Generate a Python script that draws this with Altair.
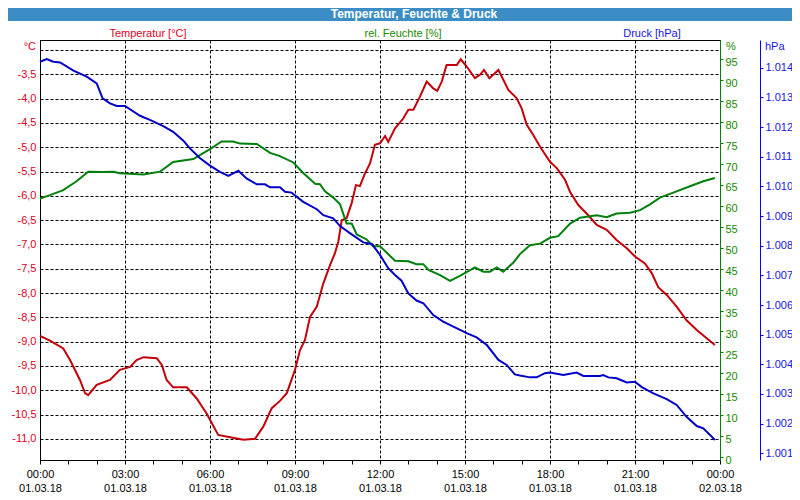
import altair as alt
import pandas as pd

# ---------------- data ----------------
temp_hours = [0.0, 0.35, 0.82, 1.06, 1.41, 1.59, 1.70, 2.00, 2.47, 2.82, 3.18, 3.41, 3.65, 4.12, 4.30,
              4.47, 4.70, 5.18, 5.53, 5.88, 6.29, 6.71, 7.18, 7.59, 7.88, 8.18, 8.47, 8.71, 9.00, 9.18,
              9.35, 9.53, 9.77, 10.00, 10.24, 10.41, 10.53, 10.65, 10.82, 11.00, 11.15, 11.29, 11.47,
              11.65, 11.82, 12.00, 12.18, 12.29, 12.53, 12.82, 13.00, 13.18, 13.41, 13.65, 13.88, 14.02,
              14.18, 14.35, 14.71, 14.85, 15.06, 15.35, 15.53, 15.67, 15.86, 16.18, 16.53, 16.82, 17.00,
              17.18, 17.41, 17.65, 18.00, 18.24, 18.53, 18.71, 19.00, 19.35, 19.65, 20.00, 20.35, 20.71,
              21.00, 21.35, 21.59, 21.82, 22.12, 22.47, 22.82, 23.18, 23.53, 23.82]
temp_values = [-8.88, -8.98, -9.14, -9.38, -9.79, -10.06, -10.10, -9.89, -9.79, -9.58, -9.52, -9.38, -9.32,
               -9.34, -9.48, -9.79, -9.94, -9.94, -10.17, -10.48, -10.92, -10.97, -11.02, -11.00, -10.75,
               -10.37, -10.22, -10.06, -9.58, -9.17, -8.97, -8.49, -8.28, -7.80, -7.42, -7.18, -6.94, -6.50,
               -6.46, -6.15, -5.78, -5.80, -5.54, -5.33, -4.95, -4.92, -4.77, -4.89, -4.61, -4.41, -4.23,
               -4.23, -3.96, -3.65, -3.79, -3.84, -3.65, -3.31, -3.31, -3.19, -3.34, -3.58, -3.51, -3.41,
               -3.58, -3.41, -3.82, -3.99, -4.20, -4.54, -4.75, -4.99, -5.30, -5.43, -5.67, -5.92, -6.19,
               -6.40, -6.60, -6.70, -6.91, -7.08, -7.25, -7.39, -7.59, -7.88, -8.04, -8.28, -8.56, -8.76,
               -8.93, -9.07]

hum_hours = [0.0, 0.35, 0.82, 1.29, 1.70, 2.24, 2.59, 2.82, 3.65, 4.24, 4.70, 5.41, 6.00, 6.41, 6.82, 7.06,
             7.65, 8.12, 8.47, 8.94, 9.29, 9.71, 9.88, 10.06, 10.35, 10.59, 10.82, 11.00, 11.18, 11.53,
             11.76, 12.00, 12.53, 13.00, 13.29, 13.53, 13.71, 14.12, 14.47, 14.82, 15.35, 15.65, 15.88,
             16.12, 16.35, 16.71, 16.94, 17.29, 17.65, 18.00, 18.29, 18.71, 19.06, 19.65, 20.00, 20.35,
             20.82, 21.18, 21.53, 21.88, 22.35, 22.94, 23.41, 23.82]
hum_values = [62.5, 63.3, 64.5, 66.6, 68.9, 68.8, 68.9, 68.5, 68.2, 68.9, 71.2, 71.9, 74.3, 76.1, 76.1, 75.6,
              75.5, 73.4, 72.6, 71.1, 68.6, 66.0, 65.9, 64.2, 62.7, 61.1, 56.5, 56.5, 53.9, 52.7, 51.1,
              51.1, 47.6, 47.5, 46.8, 46.8, 45.4, 44.2, 42.8, 44.0, 46.0, 45.0, 45.0, 46.0, 45.0, 47.2,
              49.2, 51.3, 51.7, 53.1, 53.5, 56.5, 57.9, 58.5, 58.0, 58.9, 59.1, 59.7, 61.1, 62.7, 63.9,
              65.4, 66.6, 67.4]

pres_hours = [0.0, 0.24, 0.47, 0.71, 1.18, 1.65, 2.00, 2.21, 2.47, 2.71, 3.00, 3.53, 3.88, 4.35, 4.70, 5.06,
              5.29, 5.65, 6.00, 6.35, 6.65, 7.00, 7.29, 7.65, 7.94, 8.12, 8.47, 8.65, 8.88, 9.29, 9.77,
              10.00, 10.35, 10.59, 11.00, 11.41, 11.71, 12.00, 12.29, 12.53, 12.76, 13.00, 13.29, 13.53,
              13.88, 14.23, 14.59, 15.06, 15.41, 15.77, 16.18, 16.47, 16.76, 16.94, 17.29, 17.53, 17.82,
              18.00, 18.47, 18.94, 19.18, 19.76, 19.88, 20.06, 20.35, 20.71, 21.00, 21.24, 21.65, 22.12,
              22.47, 22.82, 23.18, 23.41, 23.65, 23.82]
pres_values = [1014.20, 1014.29, 1014.20, 1014.18, 1013.90, 1013.70, 1013.47, 1012.97, 1012.80, 1012.71,
               1012.71, 1012.38, 1012.24, 1012.03, 1011.84, 1011.54, 1011.28, 1010.95, 1010.70, 1010.49,
               1010.35, 1010.53, 1010.27, 1010.07, 1010.07, 1009.97, 1009.97, 1009.82, 1009.79, 1009.48,
               1009.23, 1009.03, 1008.92, 1008.66, 1008.38, 1008.11, 1008.06, 1007.69, 1007.24, 1007.01,
               1006.82, 1006.39, 1006.15, 1006.06, 1005.66, 1005.44, 1005.27, 1005.05, 1004.91, 1004.65,
               1004.15, 1003.98, 1003.66, 1003.62, 1003.56, 1003.56, 1003.70, 1003.72, 1003.64, 1003.72,
               1003.61, 1003.61, 1003.64, 1003.56, 1003.53, 1003.39, 1003.41, 1003.23, 1003.02, 1002.83,
               1002.63, 1002.23, 1001.92, 1001.84, 1001.62, 1001.45]

hour_ticks = list(range(0, 25))
temp_ticks = [-3.0, -3.5, -4.0, -4.5, -5.0, -5.5, -6.0, -6.5, -7.0, -7.5, -8.0, -8.5, -9.0, -9.5,
              -10.0, -10.5, -11.0]
hum_ticks = [0, 5, 10, 15, 20, 25, 30, 35, 40, 45, 50, 55, 60, 65, 70, 75, 80, 85, 90, 95]
pres_ticks = [1001, 1002, 1003, 1004, 1005, 1006, 1007, 1008, 1009, 1010, 1011, 1012, 1013, 1014]

chart_title = "Temperatur, Feuchte & Druck"
series_titles = ["Temperatur [°C]", "rel. Feuchte [%]", "Druck [hPa]"]
unit_labels = ["°C", "%", "hPa"]

# ---------------- styling ----------------
FONT = "Liberation Sans"
RED_LINE = "#c4000a"
RED_TEXT = "#e0001e"
GREEN_LINE = "#00800a"
GREEN_TEXT = "#168a00"
BLUE_LINE = "#0000c8"
BLUE_TEXT = "#1414e6"
BAR = "#3c8dc6"

x_enc = alt.X(
    "h:Q",
    scale=alt.Scale(domain=[0, 24], nice=False, zero=False),
    axis=alt.Axis(
        values=hour_ticks,
        labelExpr="datum.value % 3 == 0 ? [(datum.value % 24 < 10 ? '0' : '') + (datum.value % 24) + ':00', "
                  "datum.value == 24 ? '02.03.18' : '01.03.18'] : ''",
        title=None,
        tickSize=4, tickColor="black", domainColor="black",
        labelColor="black", labelFont=FONT, labelFontSize=11,
        labelLineHeight=14, labelPadding=4, labelFlush=False, labelOverlap=False,
        grid=True, gridColor="black", gridDash=[3, 2], gridWidth=1,
        gridOpacity={"condition": {"test": "datum.value % 3 === 0", "value": 1}, "value": 0},
    ),
)

temp_df = pd.DataFrame({"h": temp_hours, "v": temp_values})
hum_df = pd.DataFrame({"h": hum_hours, "v": hum_values})
pres_df = pd.DataFrame({"h": pres_hours, "v": pres_values})

temp_line = alt.Chart(temp_df).mark_line(color=RED_LINE, strokeWidth=2).encode(
    x=x_enc,
    y=alt.Y("v:Q",
            scale=alt.Scale(domain=[-11.436, -2.794], nice=False, zero=False),
            axis=alt.Axis(orient="left", values=temp_ticks, title=None,
                          labelExpr="datum.value == -3 ? '' : replace(replace(format(datum.value, '.1f'), '.', ','), '\u2212', '-')",
                          ticks=False, labelPadding=4, domainColor="black",
                          labelColor=RED_TEXT, labelFont=FONT, labelFontSize=11,
                          grid=True, gridColor="black", gridDash=[3, 2], gridWidth=1)),
)

hum_line = alt.Chart(hum_df).mark_line(color=GREEN_LINE, strokeWidth=2).encode(
    x=x_enc,
    y=alt.Y("v:Q",
            scale=alt.Scale(domain=[0, 100.36], nice=False, zero=False),
            axis=alt.Axis(orient="right", values=hum_ticks, title=None, grid=False,
                          tickSize=3, tickColor=GREEN_LINE, domainColor=GREEN_LINE,
                          tickOffset=-3, labelOffset=3, labelPadding=2,
                          labelColor=GREEN_TEXT, labelFont=FONT, labelFontSize=11)),
)

pres_line = alt.Chart(pres_df).mark_line(color=BLUE_LINE, strokeWidth=2).encode(
    x=x_enc,
    y=alt.Y("v:Q",
            scale=alt.Scale(domain=[1000.774, 1014.935], nice=False, zero=False),
            axis=alt.Axis(orient="right", offset=40, values=pres_ticks, title=None, grid=False,
                          labelExpr="replace(format(datum.value, ',d'), ',', '.')",
                          tickSize=3, tickColor="#0000ff", domainColor="#0000ff", labelPadding=2,
                          labelColor=BLUE_TEXT, labelFont=FONT, labelFontSize=11)),
)


def text_layer(t, x, y, color, align="center", size=11, bold=False):
    return alt.Chart(pd.DataFrame({"t": [t]})).mark_text(
        font=FONT, fontSize=size, fontWeight="bold" if bold else "normal",
        color=color, align=align, baseline="middle",
    ).encode(text="t:N", x=alt.value(x), y=alt.value(y))


bar = alt.Chart(pd.DataFrame({"t": [chart_title]})).mark_rect(color=BAR).encode(
    x=alt.value(-32), x2=alt.value(752), y=alt.value(-32), y2=alt.value(-19)
)

layers = [
    bar,
    text_layer(chart_title, 374, -26, "white", size=12, bold=True),
    text_layer(series_titles[0], 108, -6, RED_TEXT),
    text_layer(series_titles[1], 363, -6, GREEN_TEXT),
    text_layer(series_titles[2], 612, -6, BLUE_TEXT),
    text_layer(unit_labels[0], -4, 7, RED_TEXT, align="right"),
    text_layer(unit_labels[1], 686, 7, GREEN_TEXT, align="left"),
    text_layer(unit_labels[2], 725, 7, BLUE_TEXT, align="left"),
    temp_line,
    hum_line,
    pres_line,
]

chart = alt.layer(*layers).resolve_scale(y="independent").properties(
    width=680, height=420,
    padding={"left": 32, "top": 32, "right": 72, "bottom": 32},
    autosize=alt.AutoSizeParams(type="none"),
    background="white",
).configure_view(stroke="black", strokeWidth=1)

chart.save("out.html", embed_options={"renderer": "svg", "actions": False})
